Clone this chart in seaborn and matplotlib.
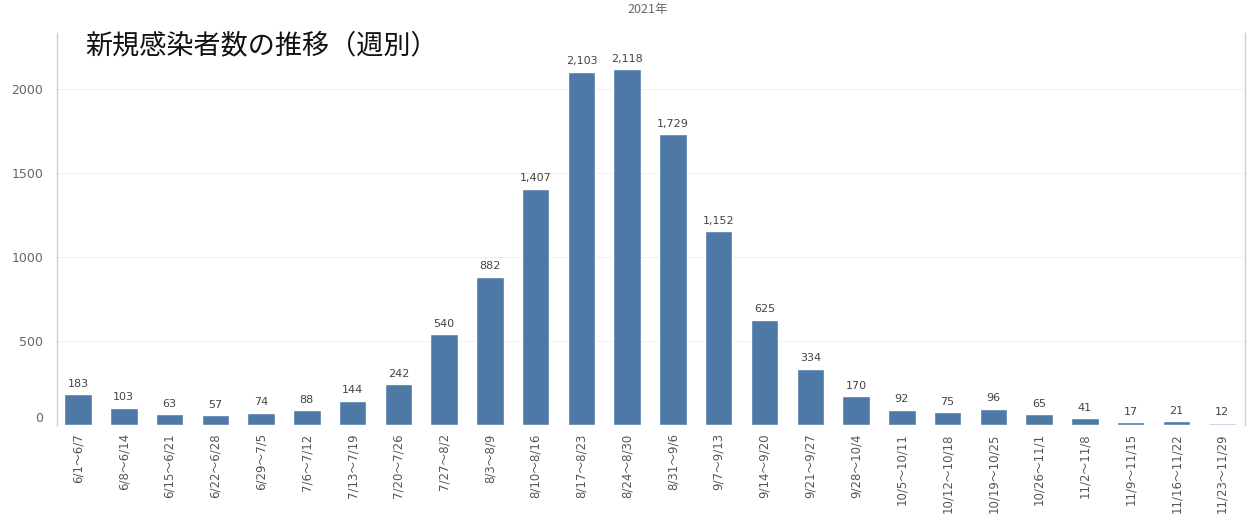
import matplotlib
matplotlib.use("Agg")
import matplotlib.pyplot as plt
import seaborn as sns
import pandas as pd

weeks = ["6/1～6/7", "6/8～6/14", "6/15～6/21", "6/22～6/28", "6/29～7/5", "7/6～7/12",
         "7/13～7/19", "7/20～7/26", "7/27～8/2", "8/3～8/9", "8/10～8/16", "8/17～8/23",
         "8/24～8/30", "8/31～9/6", "9/7～9/13", "9/14～9/20", "9/21～9/27", "9/28～10/4",
         "10/5～10/11", "10/12～10/18", "10/19～10/25", "10/26～11/1", "11/2～11/8",
         "11/9～11/15", "11/16～11/22", "11/23～11/29"]
cases = [183, 103, 63, 57, 74, 88, 144, 242, 540, 882, 1407, 2103, 2118, 1729, 1152,
         625, 334, 170, 92, 75, 96, 65, 41, 17, 21, 12]
yticks = [0, 500, 1000, 1500, 2000]
title = "新規感染者数の推移（週別）"
year_label = "2021年"

sns.set_theme(style="white")
plt.rcParams['font.family'] = ['DejaVu Sans', 'Noto Sans CJK JP']
cjk = ['Noto Sans CJK JP', 'DejaVu Sans']

main_color = "#4e79a7"
light_color = "#a9c3dc"
palette = {w: main_color for w in weeks}
palette[weeks[-1]] = light_color

df = pd.DataFrame({"week": weeks, "cases": cases})

fig = plt.figure(figsize=(12.49, 5.27), dpi=100)
ax = fig.add_axes([57 / 1249, 1 - 425 / 527, (1245 - 57) / 1249, (425 - 33) / 527])

sns.barplot(data=df, x="week", y="cases", hue="week", palette=palette, legend=False,
            width=0.6, ax=ax, saturation=1)

ax.set_xlim(-0.46, len(weeks) - 0.5)
ax.set_ylim(0, 2333)
ax.set_yticks(yticks)
ax.set_yticklabels([str(v) for v in yticks], fontsize=9, color="#666666")
for lab in ax.get_yticklabels():
    if lab.get_text() == "0":
        lab.set_verticalalignment("bottom")
ax.yaxis.grid(True, color="#f0f0f0", linewidth=0.8)
ax.set_axisbelow(True)
ax.tick_params(axis="y", length=0, pad=10)
ax.tick_params(axis="x", length=0, pad=6)
ax.set_xticks(range(len(weeks)))
ax.set_xticklabels(weeks, rotation=90, fontsize=8.5, color="#555555")
ax.set_xlabel("")
ax.set_ylabel("")

for s in ["top", "bottom"]:
    ax.spines[s].set_visible(False)
ax.spines["left"].set_color("#d0d0d0")
ax.spines["right"].set_color("#d0d0d0")
ax.spines["left"].set_linewidth(1)
ax.spines["right"].set_linewidth(1)

for i, v in enumerate(cases):
    ax.annotate(f"{v:,}", (i, v), xytext=(0, 4), textcoords="offset points",
                ha="center", va="bottom", fontsize=8, color="#444444")

fig.text(85 / 1249, 1 - 46 / 527, title, fontsize=19.5, color="#111111",
         ha="left", va="center", family=cjk)
fig.text(648 / 1249, 1 - 10 / 527, year_label, fontsize=9, color="#666666",
         ha="center", va="center", family=cjk)

fig.savefig("out.png", dpi=100)
